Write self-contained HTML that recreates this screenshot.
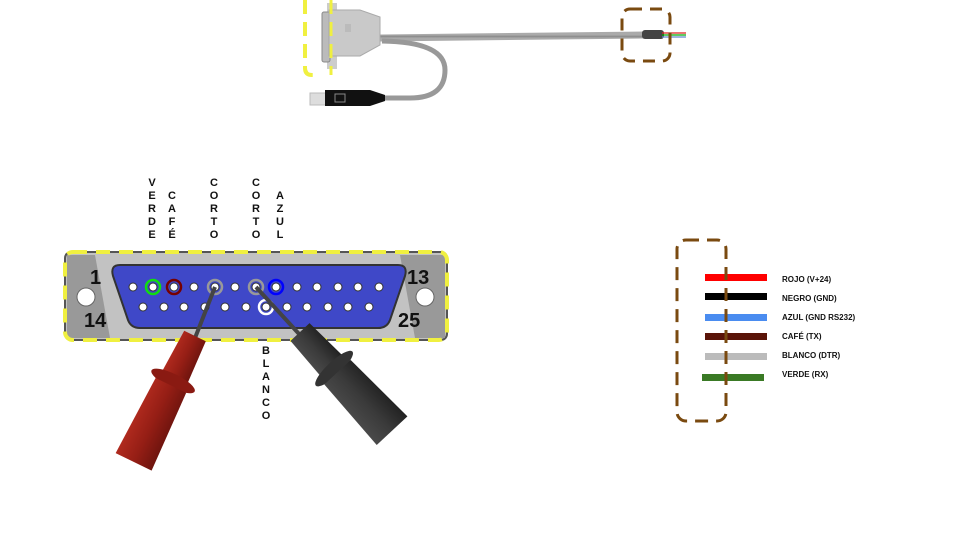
<!DOCTYPE html>
<html><head><meta charset="utf-8"><style>
html,body{margin:0;padding:0;background:#fff;}
svg{display:block;font-family:"Liberation Sans",Arial,sans-serif;}
</style></head><body>
<svg width="960" height="540" viewBox="0 0 960 540" xmlns="http://www.w3.org/2000/svg">
<defs>
<linearGradient id="cab" x1="0" y1="0" x2="0" y2="1"><stop offset="0" stop-color="#aaa"/><stop offset="0.5" stop-color="#888"/><stop offset="1" stop-color="#aaa"/></linearGradient>
<linearGradient id="red" x1="0" y1="0" x2="1" y2="0"><stop offset="0" stop-color="#b02a1e"/><stop offset="0.5" stop-color="#951e15"/><stop offset="1" stop-color="#6e140e"/></linearGradient>
<linearGradient id="blk" x1="0" y1="0" x2="1" y2="0"><stop offset="0" stop-color="#4a4a4a"/><stop offset="0.5" stop-color="#3a3a3a"/><stop offset="1" stop-color="#222"/></linearGradient>
</defs>
<!-- top cable -->
<path d="M380 38 L645 35" stroke="url(#cab)" stroke-width="7" fill="none"/>
<path d="M382 41 Q445 42 445 70 Q445 98 410 98 L385 98" stroke="#999" stroke-width="5" fill="none"/>
<rect x="310" y="93" width="20" height="12" fill="#ddd" stroke="#bbb"/>
<path d="M325 90 L370 90 L385 95 L385 101 L370 106 L325 106 Z" fill="#111"/>
<rect x="335" y="94" width="10" height="8" fill="none" stroke="#888"/>
<rect x="327" y="3" width="10" height="66" fill="#ccc"/>
<rect x="322" y="12" width="8" height="50" rx="2" fill="#bbb" stroke="#888"/>
<path d="M329 10 L360 10 L380 17 L380 45 L360 56 L329 56 Z" fill="#c9c9c9" stroke="#aaa"/>
<rect x="345" y="24" width="6" height="8" fill="#bbb"/>
<rect x="642" y="30" width="22" height="9" rx="3" fill="#444"/>
<path d="M662 33 L686 33" stroke="#d22" stroke-width="1.2"/><path d="M662 35 L686 35" stroke="#0a0" stroke-width="1.2"/><path d="M662 37 L686 37" stroke="#68c" stroke-width="1.2"/>
<path d="M305 0 L305 68 Q305 75 312 75 L320 75" stroke="#f0f040" stroke-width="4" stroke-dasharray="14,8" fill="none"/>
<path d="M331 0 L331 75" stroke="#f0f040" stroke-width="3" stroke-dasharray="14,8" fill="none"/>
<rect x="622" y="9" width="48" height="52" rx="8" fill="none" stroke="#7a4a10" stroke-width="3" stroke-dasharray="12,8"/>
<!-- DB25 -->
<rect x="65" y="252" width="382" height="88" rx="6" fill="#c2c2c2" stroke="#555" stroke-width="2"/>
<path d="M67 255 L95 255 L110 338 L67 338 Z" fill="#999"/>
<path d="M445 255 L400 255 L415 338 L445 338 Z" fill="#999"/>
<circle cx="86" cy="297" r="9" fill="#fff" stroke="#666"/>
<circle cx="425" cy="297" r="9" fill="#fff" stroke="#666"/>
<path d="M120 265 L398 265 Q408 265 405 276 L390 320 Q387 328 378 328 L140 328 Q131 328 128 320 L113 276 Q110 265 120 265 Z" fill="#3f48c8" stroke="#333" stroke-width="2"/>
<rect x="65" y="252" width="382" height="88" rx="8" fill="none" stroke="#f0f040" stroke-width="4" stroke-dasharray="14,9"/>
<g font-weight="bold" font-size="20" fill="#111">
<text x="90" y="284">1</text><text x="407" y="284">13</text><text x="84" y="327">14</text><text x="398" y="327">25</text></g>
<g fill="#fff" stroke="#333" stroke-width="1">
<circle cx="133" cy="287" r="4"/><circle cx="153" cy="287" r="4"/><circle cx="174" cy="287" r="4"/><circle cx="194" cy="287" r="4"/><circle cx="215" cy="287" r="4"/><circle cx="235" cy="287" r="4"/><circle cx="256" cy="287" r="4"/><circle cx="276" cy="287" r="4"/><circle cx="297" cy="287" r="4"/><circle cx="317" cy="287" r="4"/><circle cx="338" cy="287" r="4"/><circle cx="358" cy="287" r="4"/><circle cx="379" cy="287" r="4"/>
<circle cx="143" cy="307" r="4"/><circle cx="164" cy="307" r="4"/><circle cx="184" cy="307" r="4"/><circle cx="205" cy="307" r="4"/><circle cx="225" cy="307" r="4"/><circle cx="246" cy="307" r="4"/><circle cx="266" cy="307" r="4"/><circle cx="287" cy="307" r="4"/><circle cx="307" cy="307" r="4"/><circle cx="328" cy="307" r="4"/><circle cx="348" cy="307" r="4"/><circle cx="369" cy="307" r="4"/>
</g>
<g fill="none" stroke-width="2.5">
<circle cx="153" cy="287" r="7" stroke="#1d1"/><circle cx="174" cy="287" r="7" stroke="#700"/>
<circle cx="215" cy="287" r="7" stroke="#999"/><circle cx="256" cy="287" r="7" stroke="#999"/>
<circle cx="276" cy="287" r="7" stroke="#00f"/><circle cx="266" cy="307" r="7" stroke="#fff"/></g>
<!-- probes -->
<path d="M215 287 L195 338" stroke="#444" stroke-width="4"/>
<path d="M256 287 L300 335" stroke="#444" stroke-width="4"/>
<g transform="translate(195,336) rotate(26)">
<path d="M-12 0 L12 0 L14 45 L-14 45 Z" fill="url(#red)"/>
<ellipse cx="0" cy="50" rx="24" ry="7" fill="#8a1a12"/>
<path d="M-17 55 L17 55 L20 140 L-20 140 Z" fill="url(#red)"/>
</g>
<g transform="translate(300,332) rotate(-43)">
<path d="M-13 0 L13 0 L15 45 L-15 45 Z" fill="url(#blk)"/>
<ellipse cx="0" cy="50" rx="25" ry="7" fill="#333"/>
<path d="M-18 55 L18 55 L21 135 L-21 135 Z" fill="url(#blk)"/>
</g>
<!-- vertical labels -->
<g font-size="11" font-weight="bold" fill="#111" text-anchor="middle">
<text x="152" y="186">V</text><text x="152" y="199">E</text><text x="152" y="212">R</text><text x="152" y="225">D</text><text x="152" y="238">E</text>
<text x="172" y="199">C</text><text x="172" y="212">A</text><text x="172" y="225">F</text><text x="172" y="238">É</text>
<text x="214" y="186">C</text><text x="214" y="199">O</text><text x="214" y="212">R</text><text x="214" y="225">T</text><text x="214" y="238">O</text>
<text x="256" y="186">C</text><text x="256" y="199">O</text><text x="256" y="212">R</text><text x="256" y="225">T</text><text x="256" y="238">O</text>
<text x="280" y="199">A</text><text x="280" y="212">Z</text><text x="280" y="225">U</text><text x="280" y="238">L</text>
<text x="266" y="354">B</text><text x="266" y="367">L</text><text x="266" y="380">A</text><text x="266" y="393">N</text><text x="266" y="406">C</text><text x="266" y="419">O</text>
</g>
<!-- legend -->
<rect x="705" y="274" width="62" height="7" fill="#f00"/>
<rect x="705" y="293" width="62" height="7" fill="#000"/>
<rect x="705" y="314" width="62" height="7" fill="#4a8cf0"/>
<rect x="705" y="333" width="62" height="7" fill="#5a1408"/>
<rect x="705" y="353" width="62" height="7" fill="#bbb"/>
<rect x="702" y="374" width="62" height="7" fill="#3a7a25"/>
<rect x="677" y="240" width="49" height="181" rx="9" fill="none" stroke="#7a4a10" stroke-width="3" stroke-dasharray="13,8"/>
<g font-size="8" font-weight="bold" fill="#111">
<text x="782" y="282">ROJO (V+24)</text><text x="782" y="301">NEGRO (GND)</text><text x="782" y="320">AZUL (GND RS232)</text><text x="782" y="339">CAFÉ (TX)</text><text x="782" y="358">BLANCO (DTR)</text><text x="782" y="377">VERDE (RX)</text></g>
</svg>
</body></html>
